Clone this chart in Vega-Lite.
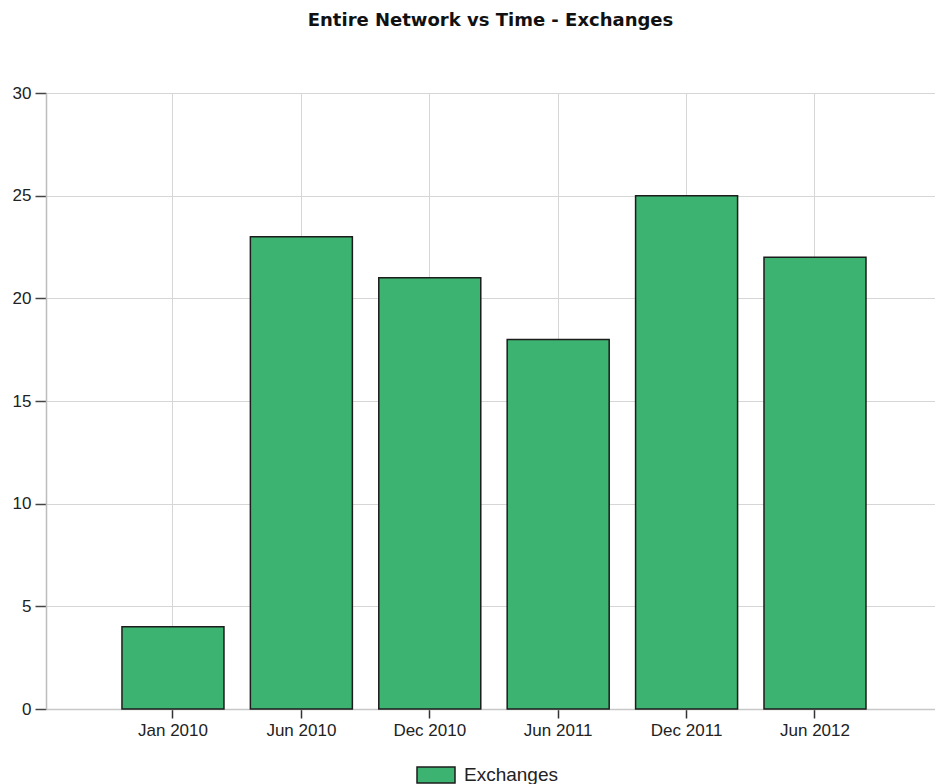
{
  "$schema": "https://vega.github.io/schema/vega-lite/v6.json",
  "width": 889,
  "height": 616,
  "autosize": {"type": "none"},
  "padding": {"left": 46, "top": 93, "right": 0, "bottom": 75},
  "background": "white",
  "title": {
    "text": "Entire Network vs Time - Exchanges",
    "font": "DejaVu Sans",
    "fontSize": 18,
    "fontWeight": "bold",
    "color": "#111111",
    "anchor": "middle",
    "frame": "group",
    "offset": 54
  },
  "data": {
    "values": [
      {"period": "Jan 2010", "count": 4, "series": "Exchanges"},
      {"period": "Jun 2010", "count": 23, "series": "Exchanges"},
      {"period": "Dec 2010", "count": 21, "series": "Exchanges"},
      {"period": "Jun 2011", "count": 18, "series": "Exchanges"},
      {"period": "Dec 2011", "count": 25, "series": "Exchanges"},
      {"period": "Jun 2012", "count": 22, "series": "Exchanges"}
    ]
  },
  "mark": {"type": "bar", "stroke": "#1c1c1c", "strokeWidth": 1.5, "opacity": 1},
  "encoding": {
    "x": {
      "field": "period",
      "type": "nominal",
      "sort": null,
      "title": null,
      "scale": {"paddingInner": 0.2056, "paddingOuter": 0.5645, "align": 0.524},
      "axis": {
        "labelAngle": 0,
        "labelFont": "Liberation Sans",
        "labelFontSize": 17,
        "labelColor": "#222222",
        "labelPadding": 4,
        "tickSize": 9,
        "tickColor": "#333333",
        "tickWidth": 1.5,
        "domainColor": "#c8c8c8",
        "domainWidth": 1.5,
        "grid": true,
        "gridColor": "#d6d6d6",
        "gridWidth": 1
      }
    },
    "y": {
      "field": "count",
      "type": "quantitative",
      "title": null,
      "scale": {"domain": [0, 30], "nice": false},
      "axis": {
        "values": [0, 5, 10, 15, 20, 25, 30],
        "labelFont": "Liberation Sans",
        "labelFontSize": 17,
        "labelColor": "#222222",
        "labelPadding": 4,
        "tickSize": 11,
        "tickColor": "#444444",
        "tickWidth": 1.5,
        "domainColor": "#bdbdbd",
        "domainWidth": 1.5,
        "grid": true,
        "gridColor": "#d6d6d6",
        "gridWidth": 1
      }
    },
    "fill": {
      "field": "series",
      "type": "nominal",
      "scale": {"range": ["#3cb371"]},
      "legend": {
        "orient": "none",
        "legendX": 370,
        "legendY": 662,
        "direction": "horizontal",
        "title": null,
        "padding": 0,
        "symbolType": "M-1,-0.42H1V0.42H-1Z",
        "symbolSize": 1444,
        "symbolStrokeColor": "#1c1c1c",
        "symbolStrokeWidth": 1.5,
        "symbolOpacity": 1,
        "labelFont": "Liberation Sans",
        "labelFontSize": 19,
        "labelColor": "#222222",
        "labelOffset": 8
      }
    }
  },
  "config": {"view": {"stroke": null}}
}
